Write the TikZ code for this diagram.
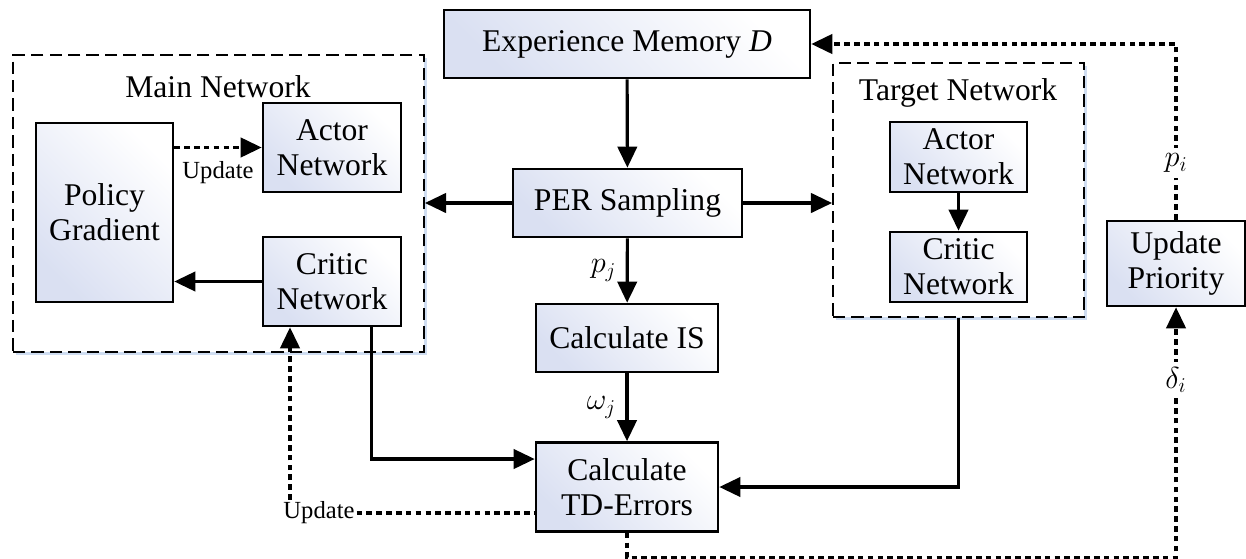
\documentclass[tikz,border=0pt]{standalone}
\usepackage{fontspec}
\setmainfont{Liberation Serif}
\usetikzlibrary{arrows.meta,shadows}
\definecolor{boxtint}{RGB}{218,224,242}
\definecolor{glow}{RGB}{160,188,228}
\begin{document}
\begin{tikzpicture}[x=0.02cm,y=-0.02cm,>={Triangle[length=12pt,width=11pt]},font=\fontsize{18}{20}\selectfont,
	blk/.style={draw,line width=1.5pt,left color=boxtint,right color=white,shading angle=135,align=center,inner sep=2pt},
	grp/.style={draw,line width=1.1pt,dash pattern=on 7pt off 3.5pt,fill=white,drop shadow={shadow xshift=1.5pt,shadow yshift=-1.5pt,fill=glow,opacity=0.5}},
	arr/.style={->,line width=1.8pt},
	dotarr/.style={line width=1.9pt,dash pattern=on 3.2pt off 2.4pt},
	lbl/.style={font=\fontsize{14}{16}\selectfont,inner sep=1pt}]
				\useasboundingbox (0,0) rectangle (1246,558);
				% dashed groups
				\node[grp,minimum width=8.22cm,minimum height=5.94cm] (mainnet) at (218.5,203.5) {};
				\node[grp,minimum width=5.02cm,minimum height=5.08cm] (tgtnet) at (958.5,190) {};
				\node (maintitle) at (218,87) {Main Network};
				\node (tgttitle) at (958,93) {Target Network};
				% blocks
				\node[blk,minimum width=7.32cm,minimum height=1.36cm] (mem) at (627,44) {Experience Memory \textit{D}};
				\node[blk,minimum width=4.58cm,minimum height=1.36cm] (per) at (627.5,203) {PER Sampling};
				\node[blk,minimum width=3.64cm,minimum height=1.36cm] (is) at (627,338) {Calculate IS};
				\node[blk,minimum width=3.64cm,minimum height=1.78cm] (td) at (627,487) {Calculate\\TD-Errors};
				\node[blk,minimum width=2.74cm,minimum height=3.58cm] (pg) at (104.5,212.5) {Policy\\Gradient};
				\node[blk,minimum width=2.76cm,minimum height=1.78cm] (mact) at (332,147.5) {Actor\\Network};
				\node[blk,minimum width=2.76cm,minimum height=1.78cm] (mcrit) at (332,281.5) {Critic\\Network};
				\node[blk,minimum width=2.74cm,minimum height=1.4cm] (tact) at (958.5,157) {Actor\\Network};
				\node[blk,minimum width=2.74cm,minimum height=1.4cm] (tcrit) at (958.5,267) {Critic\\Network};
				\node[blk,minimum width=2.76cm,minimum height=1.7cm] (upd) at (1176,263.5) {Update\\Priority};
				% solid arrows
				\draw[arr] (mem)--(per);
				\draw[arr] (per.west)--(per.west-|mainnet.east);
				\draw[arr] (per.east)--(per.east-|tgtnet.west);
				\draw[arr] (per)--node[left=2pt]{$p_j$}(is);
				\draw[arr] (is)--node[left=2pt]{$\omega_j$}(td);
				\draw[arr] (tact)--(tcrit);
				\draw[arr] (mcrit.west)--(mcrit.west-|pg.east);
				\draw[arr] ([xshift=-0.62cm]mcrit.south east)|-([yshift=0.56cm]td.west);
				\draw[arr] (tgtnet.south)|-(td.east);
				% dotted feedback
				\draw[dotarr,->] (pg.east|-mact.west)--(mact.west);
				\node[lbl] (updtop) at (218,173) {Update};
				\node[lbl] (updlow) at (319,513) {Update};
				\draw[dotarr] (updlow.east)--(updlow.east-|td.west);
				\draw[dotarr,->] ([xshift=-0.58cm]updlow.north)--([xshift=-0.58cm]updlow.north|-mcrit.south);
				\draw[dotarr,->] (td.south)--++(0,25)-|(upd.south);
				\draw[dotarr,->] (upd.north)|-(mem.east);
				\node[fill=white,inner sep=3pt] (pi) at (1176,163) {$p_i$};
				\node[fill=white,inner sep=3pt] (di) at (1176,380) {$\delta_i$};
			\end{tikzpicture}
\end{document}
